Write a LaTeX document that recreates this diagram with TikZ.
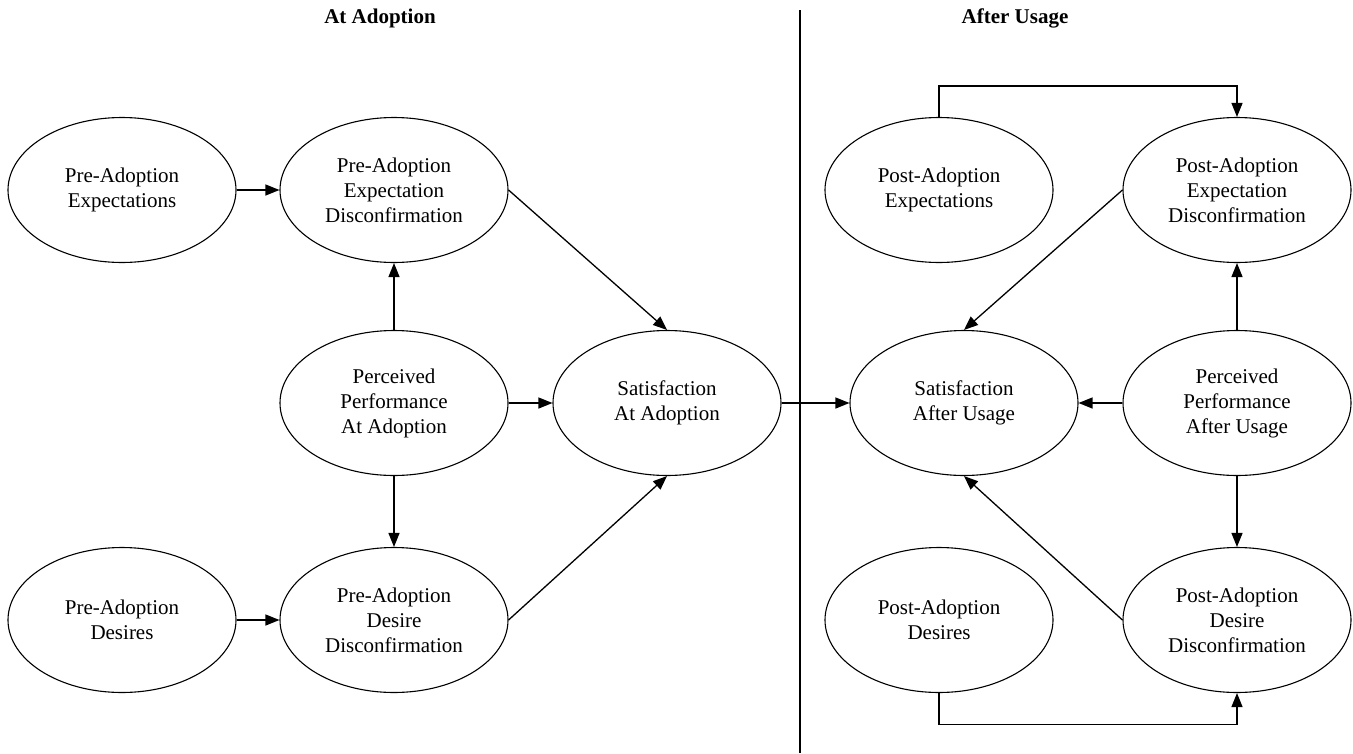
\documentclass[tikz,border=0pt]{standalone}
\usepackage{fontspec}
\setmainfont{Liberation Serif}
\usetikzlibrary{shapes.geometric,arrows.meta}
\begin{document}
\begin{tikzpicture}[x=1pt,y=-1pt,
  construct/.style={ellipse,draw,line width=1.1pt,minimum width=228pt,minimum height=145pt,inner sep=0pt,align=center,font=\fontsize{21}{25}\selectfont},
  title/.style={font=\fontsize{21}{25}\selectfont\bfseries},
  arr/.style={line width=1.3pt,-{Triangle[length=14pt,width=11pt]}},
  divider/.style={line width=1.3pt}]
\useasboundingbox (0,0) rectangle (1353,753);
\node[title] (t1) at (380,18) {At Adoption};
\node[title] (t2) at (1015,18) {After Usage};
\coordinate (dtop) at (800,10);
\coordinate (dbot) at (800,753);
\draw[divider] (dtop) -- (dbot);

\node[construct] (pae) at (122,190) {Pre-Adoption\\Expectations};
\node[construct] (paed) at (394,190) {Pre-Adoption\\Expectation\\Disconfirmation};
\node[construct] (ppaa) at (394,403) {Perceived\\Performance\\At Adoption};
\node[construct] (saa) at (667,403) {Satisfaction\\At Adoption};
\node[construct] (padd) at (394,620) {Pre-Adoption\\Desire\\Disconfirmation};
\node[construct] (pad) at (122,620) {Pre-Adoption\\Desires};

\node[construct] (poe) at (939,190) {Post-Adoption\\Expectations};
\node[construct] (poed) at (1237,190) {Post-Adoption\\Expectation\\Disconfirmation};
\node[construct] (sau) at (964,403) {Satisfaction\\After Usage};
\node[construct] (ppau) at (1237,403) {Perceived\\Performance\\After Usage};
\node[construct] (podd) at (1237,620) {Post-Adoption\\Desire\\Disconfirmation};
\node[construct] (pod) at (939,620) {Post-Adoption\\Desires};

\draw[arr] (pae.east) -- (paed.west);
\draw[arr] (ppaa.north) -- (paed.south);
\draw[arr] (ppaa.south) -- (padd.north);
\draw[arr] (ppaa.east) -- (saa.west);
\draw[arr] (paed.east) -- (saa.north);
\draw[arr] (padd.east) -- (saa.south);
\draw[arr] (pad.east) -- (padd.west);
\draw[arr] (saa.east) -- (sau.west);

\draw[arr] (poe.north) -- ++(0,-31) -| (poed.north);
\draw[arr] (poed.west) -- (sau.north);
\draw[arr] (ppau.north) -- (poed.south);
\draw[arr] (ppau.west) -- (sau.east);
\draw[arr] (ppau.south) -- (podd.north);
\draw[arr] (podd.west) -- (sau.south);
\draw[arr] (pod.south) -- ++(0,31.5) -| (podd.south);
\end{tikzpicture}
\end{document}
